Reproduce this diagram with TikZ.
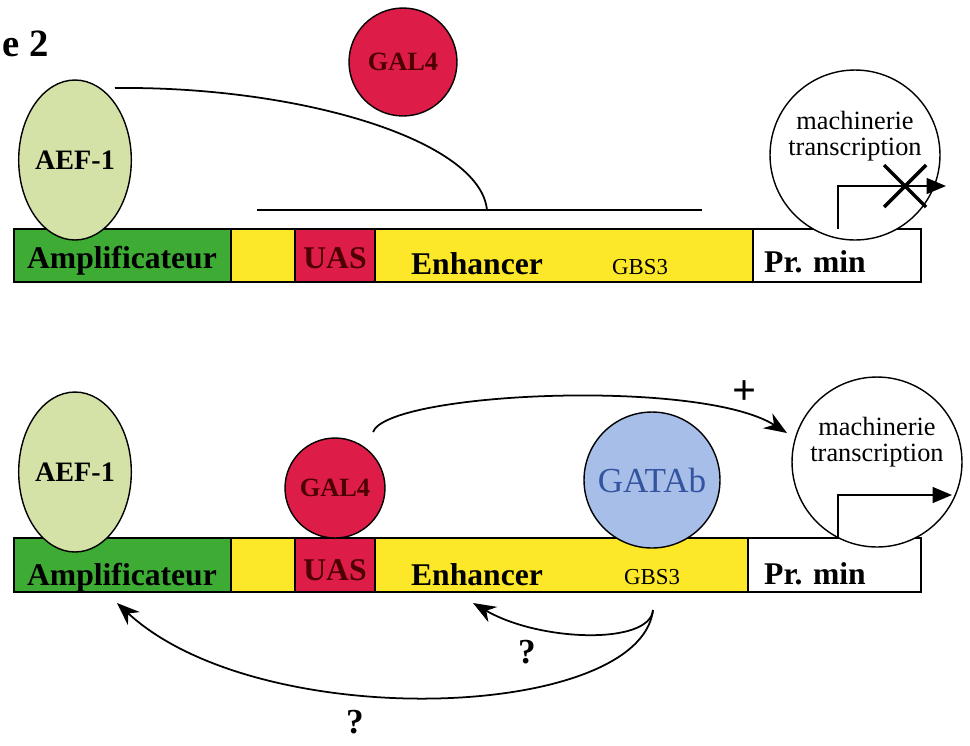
\documentclass[tikz,border=0pt]{standalone}
\usepackage{fontspec}
\setmainfont{Liberation Serif}
\usetikzlibrary{shapes.geometric,arrows.meta}

\definecolor{ampgreen}{RGB}{62,172,52}
\definecolor{enhyellow}{RGB}{252,232,40}
\definecolor{uasred}{RGB}{222,28,72}
\definecolor{aefgreen}{RGB}{212,226,168}
\definecolor{gatablue}{RGB}{166,190,232}
\definecolor{gatatext}{RGB}{52,84,160}

\tikzset{
  barlabel/.style={font=\bfseries\fontsize{18}{20}\selectfont},
  aef/.style={draw, ellipse, fill=aefgreen, inner sep=0pt, minimum width=1.68cm, minimum height=3.2cm, font=\bfseries\fontsize{16}{18}\selectfont},
  gal/.style={draw, circle, fill=uasred, inner sep=0pt, text=black!70!red, font=\bfseries\fontsize{15}{17}\selectfont},
  mach/.style={draw, circle, fill=white, inner sep=0pt, minimum size=3.4cm},
  machtext/.style={align=center, font=\fontsize{15}{17}\selectfont},
  link/.style={line width=1pt, -{Stealth[length=13pt, width=10pt]}},
  startarrow/.style={line width=1pt, -{Triangle[length=11pt, width=9pt]}}
}

\begin{document}
\begin{tikzpicture}[x=0.02cm, y=-0.02cm, line width=0.8pt]
    \useasboundingbox (0,0) rectangle (970,745);

    % Title fragment
    \node[anchor=west, font=\bfseries\fontsize{22}{24}\selectfont] (title) at (-4,44) {e 2};

    % Top construct: bar
    \fill[enhyellow] (231,229) rectangle (753,282);
    \draw[fill=ampgreen] (14,229) rectangle (231,282);
    \draw[fill=uasred] (295,229) rectangle (375,282);
    \draw (14,229) rectangle (921,282);
    \draw (753,229) -- (753,282);
    \node[barlabel] (amp1) at (122,261) {Amplificateur};
    \node[barlabel, text=black!70!red] (uas1) at (335,258) {UAS};
    \node[barlabel] (enh1) at (477,264) {Enhancer};
    \node[font=\fontsize{13}{15}\selectfont] (gbs1) at (640,267) {GBS3};
    \node[barlabel] (pr1) at (815,262) {Pr. min};

    % Top construct: proteins
    \node[aef] (aef1) at (75,160) {AEF-1};
    \node[gal, minimum size=2.16cm] (gal1) at (403,62) {GAL4};
    \coordinate (loopa) at (115,88);
    \coordinate (loopb) at (487,210);
    \draw[line width=1pt] (loopa) .. controls (300,86) and (480,140) .. (loopb);
    \draw[line width=1pt] (257,210) -- (702,210);

    % Top construct: blocked transcription
    \node[mach] (mach1) at (855,155) {};
    \node[machtext] (mtext1) at (855,136) {machinerie\\[-2pt]transcription};
    \draw[startarrow] (838,229) -- (838,186) -- (946,186);
    \draw[line width=2pt] (884,165) -- (926,207);
    \draw[line width=2pt] (884,207) -- (926,165);

    % Bottom construct: bar
    \fill[enhyellow] (231,538) rectangle (748,592);
    \draw[fill=ampgreen] (14,538) rectangle (231,592);
    \draw[fill=uasred] (295,538) rectangle (375,592);
    \draw (14,538) rectangle (921,592);
    \draw (748,538) -- (748,592);
    \node[barlabel] (amp2) at (122,578) {Amplificateur};
    \node[barlabel, text=black!70!red] (uas2) at (335,570) {UAS};
    \node[barlabel] (enh2) at (477,575) {Enhancer};
    \node[font=\fontsize{13}{15}\selectfont] (gbs2) at (652,577) {GBS3};
    \node[barlabel] (pr2) at (815,574) {Pr. min};

    % Bottom construct: proteins
    \node[aef] (aef2) at (75,472) {AEF-1};
    \node[gal, minimum size=2cm] (gal2) at (335,488) {GAL4};
    \node[draw, circle, fill=gatablue, inner sep=0pt, minimum size=2.72cm, text=gatatext, font=\fontsize{20}{22}\selectfont] (gata) at (652,480) {GATAb};
    \node[mach] (mach2) at (877,462) {};
    \node[machtext] (mtext2) at (877,442) {machinerie\\[-2pt]transcription};
    \draw[startarrow] (838,538) -- (838,495) -- (952,495);

    % Activation and feedback arrows
    \coordinate (galtop) at (373,432);
    \coordinate (machin) at (787,433);
    \draw[link] (galtop) .. controls (388,392) and (700,378) .. (machin);
    \node[font=\bfseries\fontsize{24}{26}\selectfont] (plus) at (745,393) {+};
    \coordinate (gbsfoot) at (653,610);
    \coordinate (enhfoot) at (473,603);
    \coordinate (ampfoot) at (117,603);
    \draw[link] (gbsfoot) .. controls (650,645) and (540,642) .. (enhfoot);
    \draw[link] (gbsfoot) .. controls (640,720) and (260,735) .. (ampfoot);
    \node[font=\bfseries\fontsize{20}{22}\selectfont] (q1) at (527,652) {?};
    \node[font=\bfseries\fontsize{20}{22}\selectfont] (q2) at (355,722) {?};
\end{tikzpicture}
\end{document}
